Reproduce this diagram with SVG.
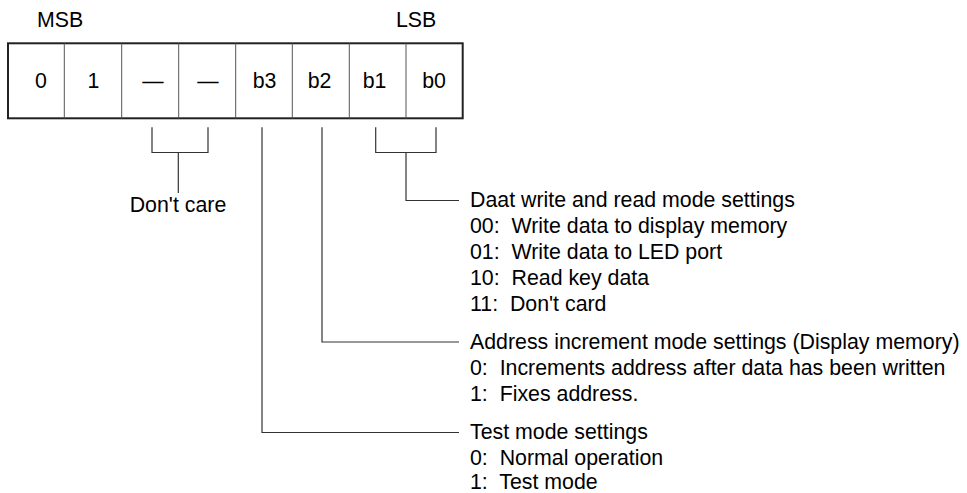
<svg xmlns="http://www.w3.org/2000/svg" width="967" height="493" viewBox="0 0 967 493">
<style>
text { font-family: "Liberation Sans", Arial, sans-serif; font-size: 21.33px; fill: #000; white-space: pre; }
.c { text-anchor: middle; }
.div { stroke: #555; stroke-width: 1; }
.ln { stroke: #333; stroke-width: 1.2; fill: none; }
</style>
<rect width="967" height="493" fill="#fff"/>
<g id="labels">
<text x="37" y="27">MSB</text>
<text x="396" y="27">LSB</text>
</g>
<g id="register">
<rect x="8" y="43.3" width="454.7" height="75" fill="#fff" stroke="#222" stroke-width="2"/>
<line class="div" x1="64.3" y1="43.3" x2="64.3" y2="118.3"/>
<line class="div" x1="121.7" y1="43.3" x2="121.7" y2="118.3"/>
<line class="div" x1="178.7" y1="43.3" x2="178.7" y2="118.3"/>
<line class="div" x1="235.7" y1="43.3" x2="235.7" y2="118.3"/>
<line class="div" x1="292.3" y1="43.3" x2="292.3" y2="118.3"/>
<line class="div" x1="349.3" y1="43.3" x2="349.3" y2="118.3"/>
<line class="div" x1="406" y1="43.3" x2="406" y2="118.3"/>
<text class="c" x="41" y="88">0</text>
<text class="c" x="93.5" y="88">1</text>
<text class="c" x="153" y="88">—</text>
<text class="c" x="208" y="88">—</text>
<text class="c" x="264.5" y="88">b3</text>
<text class="c" x="319.5" y="88">b2</text>
<text class="c" x="374.5" y="88">b1</text>
<text class="c" x="434" y="88">b0</text>
</g>
<g id="connectors">
<path class="ln" d="M152 127.3 V152.5 H208 V127.3 M178.3 152.5 V193"/>
<path class="ln" d="M375.7 127.3 V152.5 H436 V127.3 M406 152.5 V200.5 H459"/>
<path class="ln" d="M322 127.3 V342 H459"/>
<path class="ln" d="M262 127.3 V432.5 H459"/>
</g>
<g id="dont-care">
<text class="c" x="178" y="211.7">Don't care</text>
</g>
<g id="data-mode">
<text x="470" y="207.2">Daat write and read mode settings</text>
<text x="470" y="233.2">00:  Write data to display memory</text>
<text x="470" y="259.2">01:  Write data to LED port</text>
<text x="470" y="285.2">10:  Read key data</text>
<text x="470" y="311.2">11:  Don't card</text>
</g>
<g id="address-mode">
<text x="470" y="349.3">Address increment mode settings (Display memory)</text>
<text x="470" y="375">0:  Increments address after data has been written</text>
<text x="470" y="400.5">1:  Fixes address.</text>
</g>
<g id="test-mode">
<text x="470" y="439.3">Test mode settings</text>
<text x="470" y="464.5">0:  Normal operation</text>
<text x="470" y="489">1:  Test mode</text>
</g>
</svg>
